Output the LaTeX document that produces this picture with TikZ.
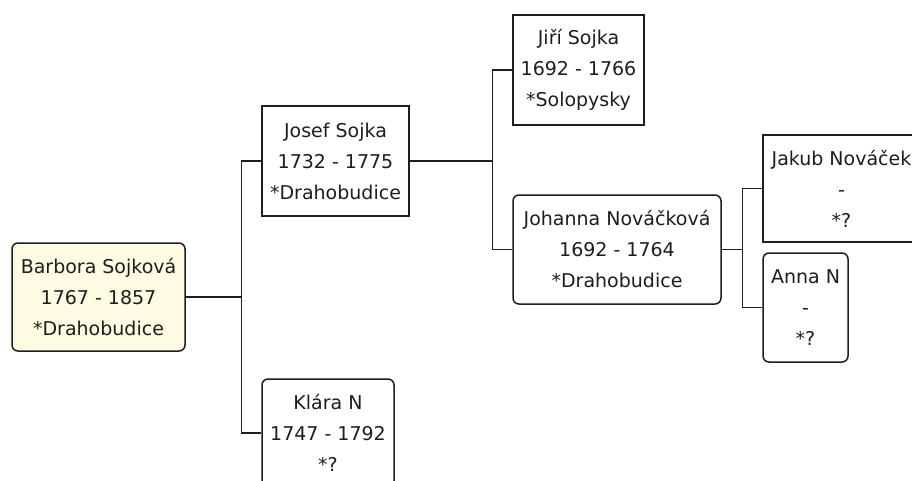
\documentclass[tikz,border=0pt]{standalone}
\usepackage{fontspec}
\setmainfont{DejaVu Sans}
\usepackage{pgf,tikz}
\usetikzlibrary{positioning}
\definecolor{krem}{RGB}{255,251,226}
\definecolor{linka}{RGB}{30,30,30}
\tikzstyle{muz} = [draw=linka, line width=1.5pt, rectangle, align=center, inner sep=0pt, text=linka, font=\fontsize{19}{31}\selectfont]
\tikzstyle{zena} = [muz, rounded corners=6pt]
\tikzstyle{koren} = [zena, fill=krem]
\tikzstyle{spoj} = [draw=linka, line width=1.5pt]

\begin{document}
\begin{tikzpicture}[x=1pt, y=-1pt]
	\useasboundingbox (0,0) rectangle (912,480);
	\clip (0,0) rectangle (912,480);
	\fill[white] (0,0) rectangle (912,480);
	% generace 1
	\node [koren, minimum width=173pt, minimum height=108pt] (barbora) at (98.5,297) {Barbora Sojková\\1767 - 1857\\*Drahobudice};
	% generace 2
	\node [muz, minimum width=147pt, minimum height=110pt] (josef) at (335.5,161) {Josef Sojka\\1732 - 1775\\*Drahobudice};
	\node [zena, minimum width=132pt, minimum height=108pt] (klara) at (328,433) {Klára N\\1747 - 1792\\*?};
	% generace 3
	\node [muz, minimum width=131pt, minimum height=110pt] (jiri) at (578.5,70) {Jiří Sojka\\1692 - 1766\\*Solopysky};
	\node [zena, minimum width=208pt, minimum height=109pt] (johanna) at (617,249.5) {Johanna Nováčková\\1692 - 1764\\*Drahobudice};
	% generace 4
	\node [muz, minimum width=157pt, minimum height=107pt] (jakub) at (841.5,188.5) {Jakub Nováček\\-\\*?};
	\node [zena, minimum width=85pt, minimum height=109pt] (anna) at (805.5,307.5) {Anna N\\-\\*?};
	% spojnice
	\draw [spoj] (josef.west) -- ++(-20,0) |- (barbora.east);
	\draw [spoj] (klara.west) -- ++(-20,0) |- (barbora.east);
	\draw [spoj] (jiri.west) -- ++(-20,0) |- (josef.east);
	\draw [spoj] (johanna.west) -- ++(-20,0) |- (josef.east);
	\draw [spoj] (jakub.west) -- ++(-20,0) |- (johanna.east);
	\draw [spoj] (anna.west) -- ++(-20,0) |- (johanna.east);
\end{tikzpicture}
\end{document}
